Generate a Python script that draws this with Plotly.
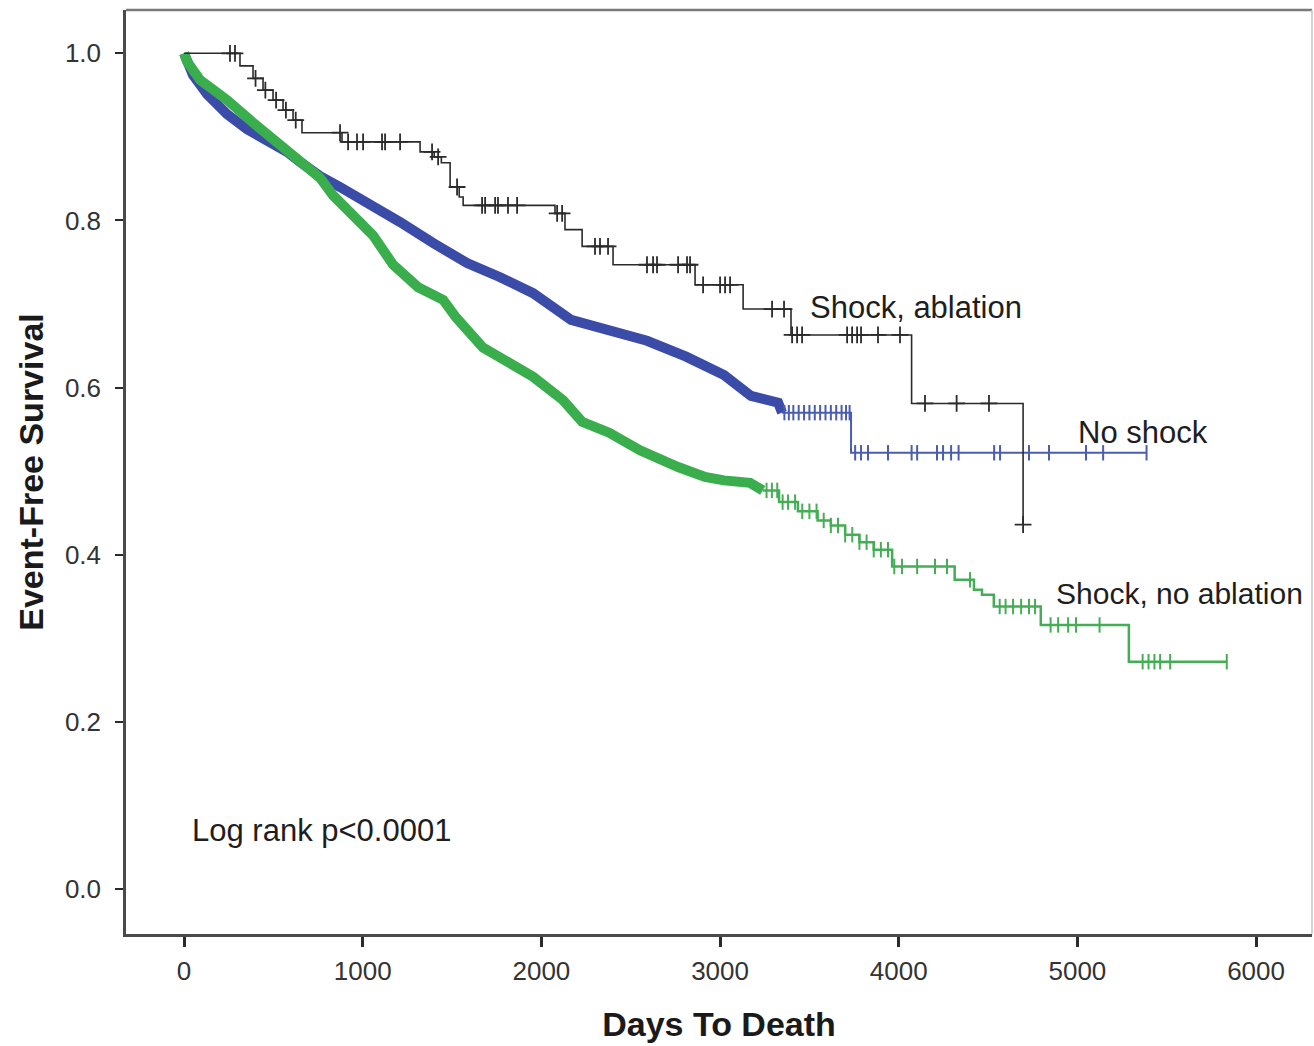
import numpy as np
import plotly.graph_objects as go

# ---- Kaplan-Meier estimates (days, event-free survival) ----
# Shock, ablation
abl_t = [0, 313, 386, 442, 498, 554, 610, 660, 884, 1321, 1400, 1440, 1489, 1540,
         1562, 2076, 2132, 2228, 2401, 2860, 3129, 3397, 4072, 4696]
abl_s = [1.0, 0.985, 0.970, 0.956, 0.944, 0.932, 0.920, 0.905, 0.894, 0.882, 0.876,
         0.869, 0.840, 0.828, 0.818, 0.8085, 0.789, 0.769, 0.747, 0.723, 0.694,
         0.663, 0.581, 0.436]
abl_cens = [257, 285, 400, 455, 515, 570, 625, 873, 918, 968, 1002, 1108, 1125, 1209,
            1388, 1422, 1528, 1668, 1685, 1741, 1757, 1813, 1864, 2088, 2116, 2300,
            2328, 2373, 2591, 2625, 2647, 2765, 2815, 2832, 2905, 3000, 3028, 3056,
            3291, 3358, 3403, 3431, 3459, 3711, 3739, 3767, 3789, 3884, 4007, 4147,
            4324, 4505, 4696]

# No shock
nos_t = [0, 50, 129, 241, 353, 465, 576, 649, 761, 873, 985, 1097, 1209, 1394, 1584,
         1769, 1953, 2166, 2379, 2591, 2810, 3022, 3173, 3325, 3347, 3733, 5387]
nos_s = [1.0, 0.974, 0.951, 0.927, 0.909, 0.896, 0.882, 0.870, 0.853, 0.840, 0.827,
         0.813, 0.798, 0.773, 0.749, 0.732, 0.713, 0.681, 0.668, 0.656, 0.637, 0.615,
         0.590, 0.582, 0.570, 0.522, 0.522]
nos_cens = [3360, 3385, 3410, 3440, 3470, 3500, 3530, 3560, 3590, 3620, 3650, 3680,
            3705, 3725, 3756, 3789, 3828, 3940, 4072, 4103, 4214, 4248, 4293, 4335,
            4534, 4567, 4729, 4841, 5048, 5144, 5387]

# Shock, no ablation
sna_t = [0, 17, 90, 241, 386, 521, 649, 761, 834, 946, 1058, 1170, 1310, 1450, 1522,
         1673, 1847, 1953, 2121, 2228, 2379, 2552, 2765, 2916, 3022, 3168, 3239, 3330,
         3436, 3546, 3620, 3700, 3780, 3860, 3963, 4313, 4421, 4466, 4532, 4795, 5288,
         5836]
sna_s = [1.0, 0.990, 0.968, 0.944, 0.917, 0.893, 0.870, 0.851, 0.830, 0.806, 0.782,
         0.747, 0.720, 0.705, 0.684, 0.648, 0.625, 0.613, 0.585, 0.559, 0.546, 0.525,
         0.505, 0.493, 0.489, 0.486, 0.477, 0.463, 0.452, 0.441, 0.435, 0.424, 0.415,
         0.406, 0.386, 0.370, 0.358, 0.352, 0.338, 0.316, 0.272, 0.272]
sna_cens = [3260, 3290, 3320, 3350, 3380, 3420, 3460, 3500, 3540, 3580, 3620, 3660,
            3700, 3740, 3780, 3820, 3860, 3900, 3940, 3975, 4018, 4103, 4203, 4270,
            4399, 4565, 4598, 4640, 4685, 4729, 4763, 4850, 4892, 4948, 4992, 5124,
            5365, 5398, 5431, 5463, 5519, 5836]

x_ticks = [0, 1000, 2000, 3000, 4000, 5000, 6000]
y_ticks = [0.0, 0.2, 0.4, 0.6, 0.8, 1.0]

FONT = "Liberation Sans, Arial, sans-serif"
BLACK = "#2b2b2b"
BLUE_DENSE = "#3a4ca8"
BLUE = "#4a5db0"
GREEN_DENSE = "#3aae4c"
GREEN = "#45ad55"


def step_value(times, surv, t):
    """Survival estimate just after time t (right-continuous step)."""
    i = np.searchsorted(np.asarray(times, float), t, side="right") - 1
    return np.asarray(surv, float)[i]


def cens_points(times, surv, cens):
    return list(cens), [float(step_value(times, surv, c)) for c in cens]


fig = go.Figure()

# No shock: dense early part drawn as a thick band, sparse tail as a step line
split = nos_t.index(3347)
fig.add_trace(go.Scatter(x=nos_t[:split + 1], y=nos_s[:split + 1], mode="lines",
                         line=dict(color=BLUE_DENSE, width=10), hoverinfo="skip",
                         showlegend=False))
fig.add_trace(go.Scatter(x=nos_t[split:], y=nos_s[split:], mode="lines",
                         line=dict(color=BLUE, width=2, shape="hv"), showlegend=False))
cx, cy = cens_points(nos_t, nos_s, nos_cens)
fig.add_trace(go.Scatter(x=cx, y=cy, mode="markers", showlegend=False,
                         marker=dict(symbol="line-ns", size=11,
                                     line=dict(color=BLUE, width=2))))

# Shock, no ablation
split = sna_t.index(3239)
fig.add_trace(go.Scatter(x=sna_t[:split + 1], y=sna_s[:split + 1], mode="lines",
                         line=dict(color=GREEN_DENSE, width=10), hoverinfo="skip",
                         showlegend=False))
fig.add_trace(go.Scatter(x=sna_t[split:], y=sna_s[split:], mode="lines",
                         line=dict(color=GREEN, width=2.5, shape="hv"), showlegend=False))
cx, cy = cens_points(sna_t, sna_s, sna_cens)
fig.add_trace(go.Scatter(x=cx, y=cy, mode="markers", showlegend=False,
                         marker=dict(symbol="line-ns", size=11,
                                     line=dict(color=GREEN, width=2))))

# Shock, ablation
fig.add_trace(go.Scatter(x=abl_t, y=abl_s, mode="lines",
                         line=dict(color=BLACK, width=1.6, shape="hv"), showlegend=False))
cx, cy = cens_points(abl_t, abl_s, abl_cens)
fig.add_trace(go.Scatter(x=cx, y=cy, mode="markers", showlegend=False,
                         marker=dict(symbol="cross-thin", size=12,
                                     line=dict(color=BLACK, width=1.8))))

# Curve labels and test result
labels = [
    ("Shock, ablation", 3504, 0.696, 31),
    ("No shock", 5004, 0.546, 31),
    ("Shock, no ablation", 4880, 0.354, 30),
    ("Log rank p<0.0001", 45, 0.0706, 31),
]
for text, x, y, size in labels:
    fig.add_annotation(x=x, y=y, text=text, showarrow=False, xanchor="left",
                       yanchor="middle", xshift=-2,
                       font=dict(family=FONT, size=size, color="#1e1e1e"))

# Top and right frame edges
fig.add_shape(type="line", xref="paper", yref="paper", x0=0, x1=1, y0=1, y1=1,
              line=dict(color="#7a7a7a", width=2.5))
fig.add_shape(type="line", xref="paper", yref="paper", x0=1, x1=1, y0=0, y1=1,
              line=dict(color="#c4c4c4", width=1.5))

fig.update_layout(
    width=1314, height=1046,
    margin=dict(l=126, r=2, t=10, b=112),
    paper_bgcolor="white", plot_bgcolor="white",
    font=dict(family=FONT, color="#333333"),
)
fig.update_xaxes(
    range=[-325, 6313], tickvals=x_ticks, ticktext=[str(v) for v in x_ticks],
    showgrid=False, zeroline=False, showline=True, linecolor="#4a4a4a", linewidth=2.5,
    ticks="outside", ticklen=10, tickwidth=2.5, tickcolor="#2a2a2a",
    ticklabelstandoff=2,
    tickfont=dict(family=FONT, size=26, color="#333333"),
    title=dict(text="<b>Days To Death</b>", standoff=28,
               font=dict(family=FONT, size=34, color="#1a1a1a")),
)
fig.update_yaxes(
    range=[-0.0538, 1.0518], tickvals=y_ticks, ticktext=[f"{v:.1f}" for v in y_ticks],
    showgrid=False, zeroline=False, showline=True, linecolor="#4a4a4a", linewidth=2.5,
    ticks="outside", ticklen=8, tickwidth=2, tickcolor="#2a2a2a",
    ticklabelstandoff=9,
    tickfont=dict(family=FONT, size=26, color="#333333"),
    title=dict(text="<b>Event-Free Survival</b>", standoff=11,
               font=dict(family=FONT, size=34, color="#1a1a1a")),
)

fig.write_html("out.html")
